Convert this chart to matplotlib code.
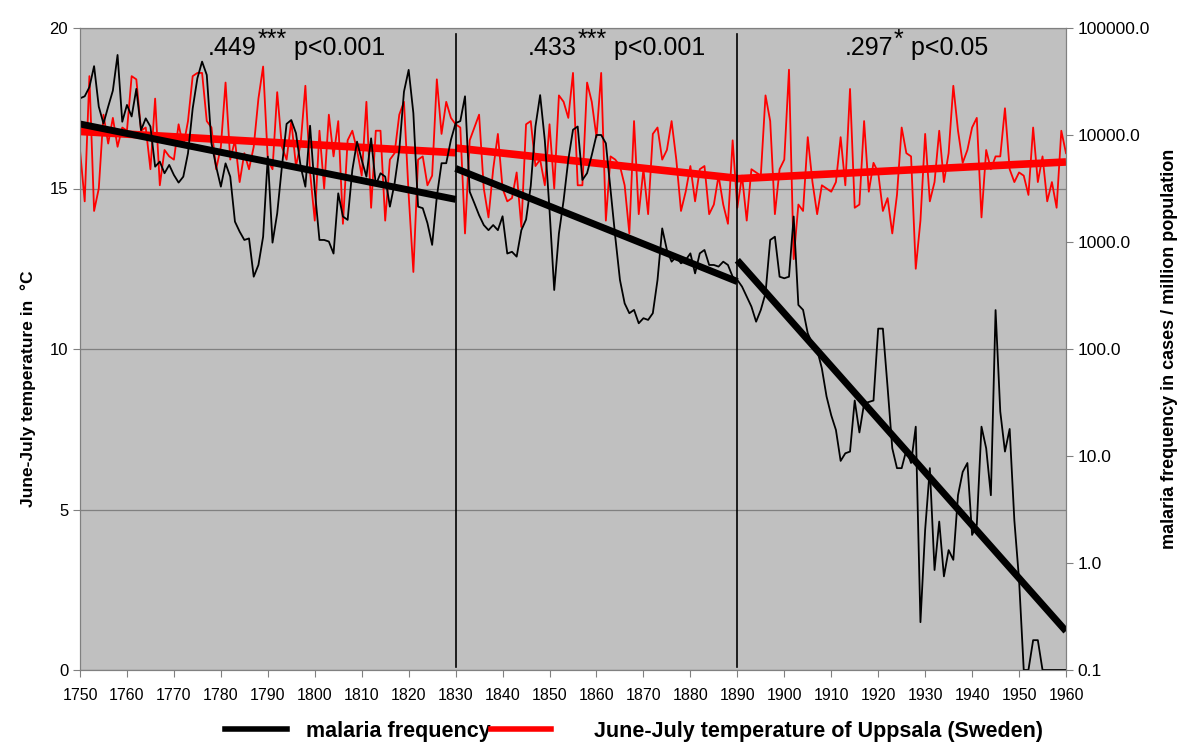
import matplotlib
matplotlib.use('Agg')
import matplotlib.pyplot as plt
import numpy as np
from matplotlib.lines import Line2D
from matplotlib.ticker import FixedLocator, FuncFormatter, NullLocator

plt.rcParams['font.family'] = ['Liberation Sans', 'DejaVu Sans']

years = np.arange(1750, 1961)

# June-July temperature of Uppsala, deg C
temperature = np.array([
    16.2, 14.6, 18.5, 14.3, 15.0, 17.3, 16.4, 17.2, 16.3, 16.9,
    16.8, 18.5, 18.4, 16.8, 16.9, 15.6, 17.8, 15.1, 16.2, 16.0,
    15.9, 17.0, 16.3, 17.1, 18.5, 18.6, 18.6, 17.1, 16.9, 15.6,
    16.3, 18.3, 15.9, 16.5, 15.2, 16.1, 15.6, 16.3, 17.8, 18.8,
    15.9, 15.6, 18.0, 16.3, 15.9, 17.1, 15.7, 16.4, 18.2, 15.5,
    14.0, 16.8, 15.0, 17.3, 16.0, 17.1, 13.9, 16.5, 16.8, 16.2,
    15.4, 17.7, 14.4, 16.8, 16.8, 14.0, 15.9, 16.1, 17.3, 17.7,
    14.8, 12.4, 15.9, 16.0, 15.1, 15.4, 18.4, 16.7, 17.7, 17.2,
    17.0, 16.9, 13.6, 16.5, 16.9, 17.3, 15.0, 14.1, 15.6, 16.7,
    15.0, 14.6, 14.7, 15.5, 13.8, 17.0, 17.1, 15.7, 15.9, 15.1,
    17.0, 15.0, 17.9, 17.7, 17.2, 18.6, 15.1, 15.1, 18.3, 17.7,
    16.6, 18.6, 14.0, 16.0, 15.9, 15.7, 15.1, 13.6, 17.1, 14.2,
    15.6, 14.2, 16.7, 16.9, 15.9, 16.2, 17.1, 15.9, 14.3, 14.9,
    15.7, 14.6, 15.6, 15.7, 14.2, 14.5, 15.4, 14.5, 13.9, 16.5,
    14.4, 15.4, 14.0, 15.6, 15.5, 15.4, 17.9, 17.1, 14.2, 15.6,
    15.9, 18.7, 12.8, 14.5, 14.3, 16.6, 15.2, 14.2, 15.1, 15.0,
    14.9, 15.2, 16.6, 15.1, 18.1, 14.4, 14.5, 17.1, 14.9, 15.8,
    15.5, 14.3, 14.7, 13.6, 14.8, 16.9, 16.1, 16.0, 12.5, 14.0,
    16.7, 14.6, 15.2, 16.8, 15.2, 16.1, 18.2, 16.8, 15.8, 16.2,
    16.9, 17.2, 14.1, 16.2, 15.6, 16.0, 16.0, 17.5, 15.6, 15.2,
    15.5, 15.4, 14.8, 16.9, 15.2, 16.0, 14.6, 15.2, 14.4, 16.8,
    16.1,
])

# malaria cases per million population (0 drawn at the 0.1 floor)
malaria = np.array([
    22000, 23000, 28000, 44000, 18400, 12800, 18400, 26000, 56000, 13300,
    19100, 14900, 27000, 11100, 14300, 12000, 5060, 5640, 4390, 5250,
    4230, 3590, 4080, 6750, 17700, 33900, 48500, 36400, 8360, 5060,
    3290, 5430, 4080, 1550, 1250, 1045, 1080, 474, 610, 1120,
    6280, 986, 1850, 5060, 12700, 13800, 10400, 5060, 3290, 12200,
    3060, 1045, 1045, 1010, 780, 2850, 1730, 1610, 4710, 8670,
    5850, 4080, 9310, 3410, 4390, 4080, 2140, 3530, 7250, 25400,
    40600, 16000, 2140, 2070, 1500, 940, 2650, 5450, 5450, 9000,
    12900, 13500, 23000, 2950, 2300, 1780, 1440, 1290, 1440, 1290,
    1740, 780, 810, 730, 1290, 1620, 3340, 12000, 23600, 8900,
    2000, 356, 1200, 2450, 5860, 11200, 12000, 3800, 4400, 6500,
    10000, 10000, 8360, 3060, 1120, 442, 267, 216, 232, 174,
    194, 187, 216, 442, 1340, 843, 655, 729, 632, 679,
    783, 509, 783, 843, 610, 610, 589, 655, 610, 474,
    442, 383, 308, 249, 180, 232, 331, 1045, 1120, 474,
    458, 474, 1730, 258, 232, 140, 112, 98, 66, 36,
    24, 17.5, 9.0, 10.6, 11.0, 33, 16.6, 31, 32, 33,
    155, 155, 44, 11.8, 7.7, 7.7, 11.4, 8.6, 18.8, 0.28,
    2.04, 7.7, 0.86, 2.44, 0.75, 1.32, 1.07, 4.3, 7.1, 8.6,
    1.83, 2.27, 18.8, 11.8, 4.3, 231, 26, 11.0, 17.9, 2.5,
    0.70, 0.1, 0.1, 0.19, 0.19, 0.1, 0.1, 0.1, 0.1, 0.1,
    0.1,
])

segments = [(1750, 1830), (1830, 1890), (1890, 1960)]
seg_r = ['.449', '.433', '.297']
seg_stars = ['***', '***', '*']
seg_p = [' p<0.001', ' p<0.001', ' p<0.05']
seg_text_x = [1777.3, 1845.4, 1912.9]
breaks = [1830, 1890]
right_ticks = [0.1, 1, 10, 100, 1000, 10000, 100000]

fig = plt.figure(figsize=(12, 7.52), dpi=100)
ax = fig.add_axes([80/1200, 1-670/752, 986/1200, 642/752])
ax.set_facecolor('#c0c0c0')
ax.set_xlim(1750, 1960)
ax.set_ylim(0, 20)
ax.set_yticks([0, 5, 10, 15, 20])
ax.set_xticks(range(1750, 1961, 10))
ax.yaxis.grid(True, color='#808080', lw=0.9)
ax.set_axisbelow(True)
ax.tick_params(axis='x', labelsize=11.5, length=5, color='#808080', pad=8)
ax.tick_params(axis='y', labelsize=12, length=5, color='#808080')

ax.plot(years, temperature, color='#ff0000', lw=1.3)

ax2 = ax.twinx()
ax2.set_yscale('log')
ax2.set_ylim(0.1, 100000)
ax2.yaxis.set_major_locator(FixedLocator(right_ticks))
ax2.yaxis.set_minor_locator(NullLocator())
ax2.yaxis.set_major_formatter(FuncFormatter(lambda v, p: '%.1f' % v))
ax2.tick_params(axis='y', labelsize=12.5, length=5, color='#808080')
ax2.plot(years, malaria, color='black', lw=1.3)

for sp in list(ax.spines.values()) + list(ax2.spines.values()):
    sp.set_color('#808080')

# trend lines per period
for a, b in segments:
    m = (years >= a) & (years <= b)
    p = np.polyfit(years[m], temperature[m], 1)
    ax.plot([a, b], np.polyval(p, [a, b]), color='#ff0000', lw=5.5, solid_capstyle='butt')
    q = np.polyfit(years[m], np.log10(malaria[m]), 1)
    ax2.plot([a, b], 10 ** np.polyval(q, [a, b]), color='black', lw=5, solid_capstyle='butt')

for b in breaks:
    ax2.axvline(b, ymin=0.005, ymax=0.99, color='black', lw=1.2)

for r, s, pv, x in zip(seg_r, seg_stars, seg_p, seg_text_x):
    t1 = ax.text(x, 19.15, r, ha='left', va='baseline', fontsize=18)
    t2 = ax.annotate(s, xy=(1, 0), xycoords=t1, xytext=(0.5, 6), textcoords='offset points',
                     ha='left', va='bottom', fontsize=18)
    ax.annotate(pv, xy=(1, 0), xycoords=(t2, t1), ha='left', va='bottom', fontsize=18)

fig.text(28/1200, 1-389/752, 'June-July temperature in  \u00b0C', rotation=90,
         ha='center', va='center', fontsize=12.5, fontweight='bold')
fig.text(1170/1200, 1-349/752, 'malaria frequency in cases / million population', rotation=90,
         ha='center', va='center', fontsize=13, fontweight='bold')

lprop = {'weight': 'bold', 'size': 15.5}
fig.legend(handles=[Line2D([], [], color='black', lw=4)], labels=['malaria frequency'],
           loc='center left', bbox_to_anchor=(225/1200, 1-731/752), frameon=False,
           borderpad=0, borderaxespad=0, handlelength=2.9, handletextpad=0.85, prop=lprop)
fig.legend(handles=[Line2D([], [], color='#ff0000', lw=4)],
           labels=['June-July temperature of Uppsala (Sweden)'],
           loc='center left', bbox_to_anchor=(491/1200, 1-731/752), frameon=False,
           borderpad=0, borderaxespad=0, handlelength=2.8, handletextpad=2.0, prop=lprop)

fig.savefig('out.png', dpi=100)
